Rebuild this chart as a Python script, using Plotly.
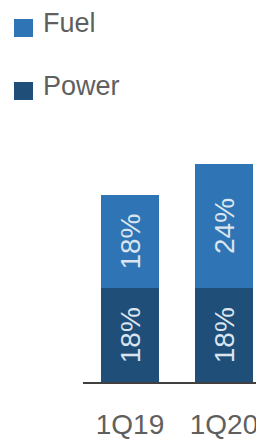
import plotly.graph_objects as go

categories = ["1Q19", "1Q20"]
power = [18, 18]
fuel = [18, 24]
series_names = ["Power", "Fuel"]

FUEL_C = "#2F75B5"
POWER_C = "#1F4E79"
TXT_C = "#DCE5EF"
GRAY = "#5F5F5F"
FONT = "Liberation Sans, Arial, sans-serif"

# the page body has an 8px margin, so the figure is offset by 8px
OFF = 8
W, H = 264 - OFF, 444 - OFF
ml, mr, mt, mb = 83 - OFF, 0, 122 - OFF, 62
pw = W - ml - mr
ph = H - mt - mb

fig = go.Figure()
for name, vals, col in [(series_names[0], power, POWER_C), (series_names[1], fuel, FUEL_C)]:
    fig.add_trace(go.Bar(
        x=categories, y=vals, name=name, marker=dict(color=col, line=dict(width=0)),
        texttemplate="%{y}%", textposition="inside", textangle=-90,
        insidetextanchor="middle", constraintext="none",
        insidetextfont=dict(size=28, color=TXT_C, family=FONT),
        showlegend=False,
    ))

def px_to_paper(x, y):
    x -= OFF
    y -= OFF
    return (x - ml) / pw, (H - mb - y) / ph

# legend drawn as shapes + annotations (Fuel on top, Power below)
legend_items = [(series_names[1], FUEL_C, 28), (series_names[0], POWER_C, 91)]
for name, col, cy in legend_items:
    x0, y0 = px_to_paper(14, cy - 9)
    x1, y1 = px_to_paper(33, cy + 9)
    fig.add_shape(type="rect", xref="paper", yref="paper", x0=x0, x1=x1, y0=y1, y1=y0,
                  line=dict(width=0), fillcolor=col)
    ax, ay = px_to_paper(41, cy - 5)
    fig.add_annotation(text=name, xref="paper", yref="paper", x=ax, y=ay,
                       xanchor="left", yanchor="middle", showarrow=False,
                       font=dict(size=27, color=GRAY, family=FONT))

fig.update_layout(
    barmode="stack", bargap=0.39,
    width=W, height=H,
    margin=dict(l=ml, r=mr, t=mt, b=mb),
    paper_bgcolor="white", plot_bgcolor="white",
    showlegend=False,
    xaxis=dict(range=[-0.5, -0.5 + pw / 94.0], showgrid=False, showline=True,
               linecolor="#404040", linewidth=2, ticks="", zeroline=False,
               tickfont=dict(size=28, color=GRAY, family=FONT), ticklabelstandoff=16),
    yaxis=dict(range=[0, 50], visible=False, showgrid=False, zeroline=False),
)

fig.write_html("out.html")
